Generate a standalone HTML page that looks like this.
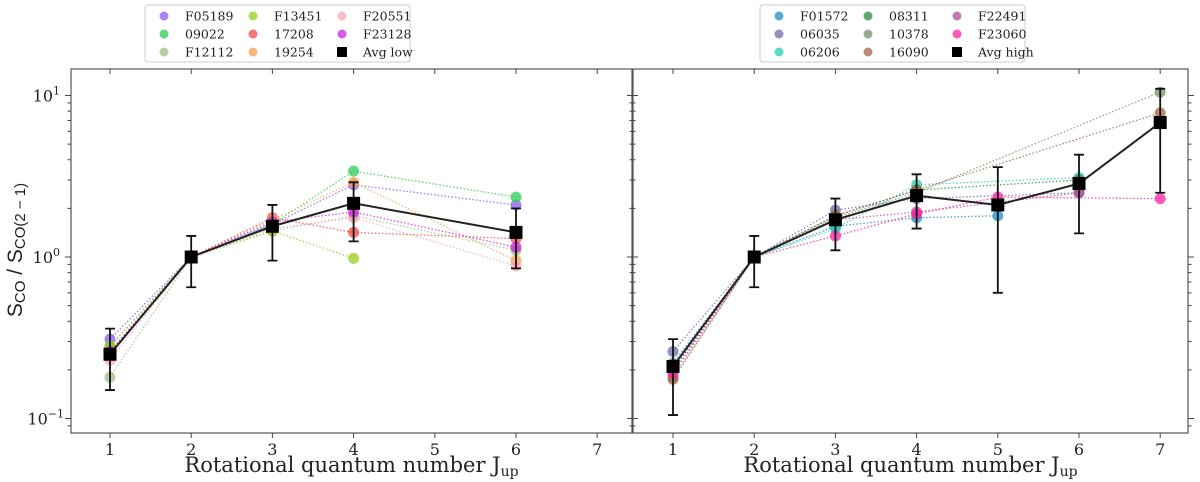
<!DOCTYPE html>
<html><head><meta charset="utf-8">
<style>
html,body{margin:0;padding:0;background:#fff;}
svg{display:block;font-family:"DejaVu Serif","Liberation Serif",serif;}
</style></head>
<body>
<svg id="chart" width="1200" height="482" viewBox="0 0 1200 482"></svg>
<script>
const jLevels = [1,2,3,4,5,6,7];
const lowNames = ["F05189","09022","F12112","F13451","17208","19254","F20551","F23128"];
const lowColors = ["#8a5cf0","#2ecc50","#9dbf85","#9acd1a","#f04848","#f5a050","#f7a8b8","#d020e0"];
const lowX = [[1,2,3,4,6],[1,2,3,4,6],[1,2,3,4,6],[1,2,3,4],[1,2,3,4,6],[1,2,3,4,6],[1,2,3,4,6],[1,2,3,4,6]];
const lowY = [[0.31,1,1.6,2.8,2.1],[0.28,1,1.6,3.4,2.35],[0.18,1,1.45,1.8,1.1],[0.28,1,1.45,0.98],[0.26,1,1.75,1.42,1.3],[0.26,1,1.7,2.9,0.95],[0.23,1,1.5,1.75,0.88],[0.26,1,1.65,1.9,1.15]];
const avgLowX = [1,2,3,4,6];
const avgLowY = [0.25,1,1.55,2.15,1.42];
const avgLowLo = [0.15,0.65,0.95,1.25,0.85];
const avgLowHi = [0.36,1.35,2.1,2.9,2.0];
const highNames = ["F01572","06035","06206","08311","10378","16090","F22491","F23060"];
const highColors = ["#1f8fc0","#6f6aa8","#20d0b0","#2e8a3a","#7a8f6a","#a0664a","#b0509a","#ff20a0"];
const highX = [[1,2,3,4,5],[1,2,3,4,6],[1,2,3,4,6],[1,2,3,4,6],[1,2,3,4,7],[1,2,3,4,7],[1,2,3,4,6],[1,2,3,4,5,7]];
const highY = [[0.22,1,1.55,1.75,1.8],[0.26,1,1.95,2.3,2.5],[0.2,1,1.5,2.8,3.1],[0.2,1,1.8,2.6,3.0],[0.18,1,1.75,2.5,10.5],[0.175,1,1.8,2.6,7.8],[0.2,1,1.7,1.9,2.5],[0.19,1,1.35,1.85,2.35,2.3]];
const avgHighX = [1,2,3,4,5,6,7];
const avgHighY = [0.21,1,1.7,2.4,2.1,2.85,6.8];
const avgHighLo = [0.105,0.65,1.1,1.5,0.6,1.4,2.5];
const avgHighHi = [0.31,1.35,2.3,3.25,3.6,4.3,11];

const NS="http://www.w3.org/2000/svg";
const svg=document.getElementById('chart');
function mk(tag,attrs,parent){const e=document.createElementNS(NS,tag);for(const k in attrs)e.setAttribute(k,attrs[k]);(parent||svg).appendChild(e);return e;}
const yTop=69,yBot=433;
function yS(v){return 257-Math.log10(v)*161.5;}

function panel(px0,px1,x1pix,name,names,colors,xs,ys,ax,ay,alo,ahi,avgLabel,legX){
  const g=mk('g',{});
  
  
  const xS=j=>x1pix+(j-1)*81.2;
  names.forEach((n,i)=>{
    const sg=mk('g',{},g);
    
    
    const pts=xs[i].map((x,k)=>xS(x)+','+yS(ys[i][k])).join(' ');
    const pl=mk('polyline',{points:pts,fill:'none',stroke:colors[i],'stroke-width':1.3,'stroke-dasharray':'1.5,2','opacity':0.8},sg);
    
    
    xs[i].forEach((x,k)=>{
      const c=mk('circle',{cx:xS(x),cy:yS(ys[i][k]),r:5.5,fill:colors[i],opacity:0.75},sg);
      
      
    });
  });
  const ag=mk('g',{},g);
  
  
  mk('polyline',{points:ax.map((x,k)=>xS(x)+','+yS(ay[k])).join(' '),fill:'none',stroke:'#222','stroke-width':2},ag);
  ax.forEach((x,k)=>{
    const cx=xS(x),t=yS(ahi[k]),b=yS(alo[k]);
    const eb=mk('path',{d:`M${cx},${t}V${b}M${cx-5},${t}H${cx+5}M${cx-5},${b}H${cx+5}`,stroke:'#111','stroke-width':1.8,fill:'none'},ag);
    
    
    const s=mk('rect',{x:cx-6.5,y:yS(ay[k])-6.5,width:13,height:13,fill:'#000'},ag);
    
    
  });
  const fr=mk('rect',{x:px0,y:yTop,width:px1-px0,height:yBot-yTop,fill:'none',stroke:'#555','stroke-width':1.2},g);
  
  
  jLevels.forEach(j=>{
    const x=xS(j);
    mk('path',{d:`M${x},${yBot}V${yBot+5}M${x},${yTop}V${yTop+5}`,stroke:'#444','stroke-width':1},g);
    const t=mk('text',{x:x,y:yBot+22,'text-anchor':'middle','font-size':16,fill:'#222'},g);
    t.textContent=j;
    
    
  });
  for(let d=-2;d<=1;d++){for(let m=1;m<10;m++){const v=m*Math.pow(10,d);const y=yS(v);if(y<yTop||y>yBot)continue;
    const L=m===1?6:3.5;
    mk('path',{d:`M${px0-L},${y}H${px0}M${px1},${y}H${px1+L}`,stroke:'#444','stroke-width':1},g);}}
  const xl=mk('text',{x:(px0+px1)/2,y:472,'text-anchor':'middle','font-size':21,fill:'#222'},g);
  xl.innerHTML='Rotational quantum number J<tspan font-size="14" dy="4">up</tspan>';
  
  
  const lg=mk('g',{},g);
  
  
  mk('rect',{x:legX,y:5,width:265,height:57,rx:3,fill:'#fff',stroke:'#ccc','stroke-width':1},lg);
  const entries=names.map((n,i)=>({n:n,c:colors[i]})).concat([{n:avgLabel,c:null}]);
  entries.forEach((e,i)=>{
    const col=Math.floor(i/3),row=i%3;
    const ex=legX+19+col*89,ey=16+row*18;
    const eg=mk('g',{},lg);
    
    
    if(e.c) mk('circle',{cx:ex,cy:ey,r:4.5,fill:e.c,opacity:0.75},eg);
    else mk('rect',{x:ex-5,y:ey-5,width:10,height:10,fill:'#000'},eg);
    const t=mk('text',{x:ex+21,y:ey+4.5,'font-size':12.5,fill:'#222'},eg);
    t.textContent=e.n;
  });
}
panel(71,632,110,'low',lowNames,lowColors,lowX,lowY,avgLowX,avgLowY,avgLowLo,avgLowHi,'Avg low',145);
panel(633,1188,673,'high',highNames,highColors,highX,highY,avgHighX,avgHighY,avgHighLo,avgHighHi,'Avg high',760);
[[10,'1'],[1,'0'],[0.1,'−1']].forEach(([v,e])=>{
  const t=mk('text',{x:e==='−1'?64:60,y:yS(v)+6,'text-anchor':'end','font-size':16,fill:'#222'});
  t.innerHTML='10<tspan font-size="11" dy="-7">'+e+'</tspan>';
  
  
});
const yt=mk('text',{x:0,y:0,'text-anchor':'middle','font-size':21,fill:'#222',transform:'translate(22,250) rotate(-90)','font-family':'Liberation Sans, sans-serif'});
yt.innerHTML='S<tspan font-size="15" dy="3">CO</tspan><tspan dy="-3"> / S</tspan><tspan font-size="15" dy="3">CO(2 − 1)</tspan>';


</script>
</body></html>
